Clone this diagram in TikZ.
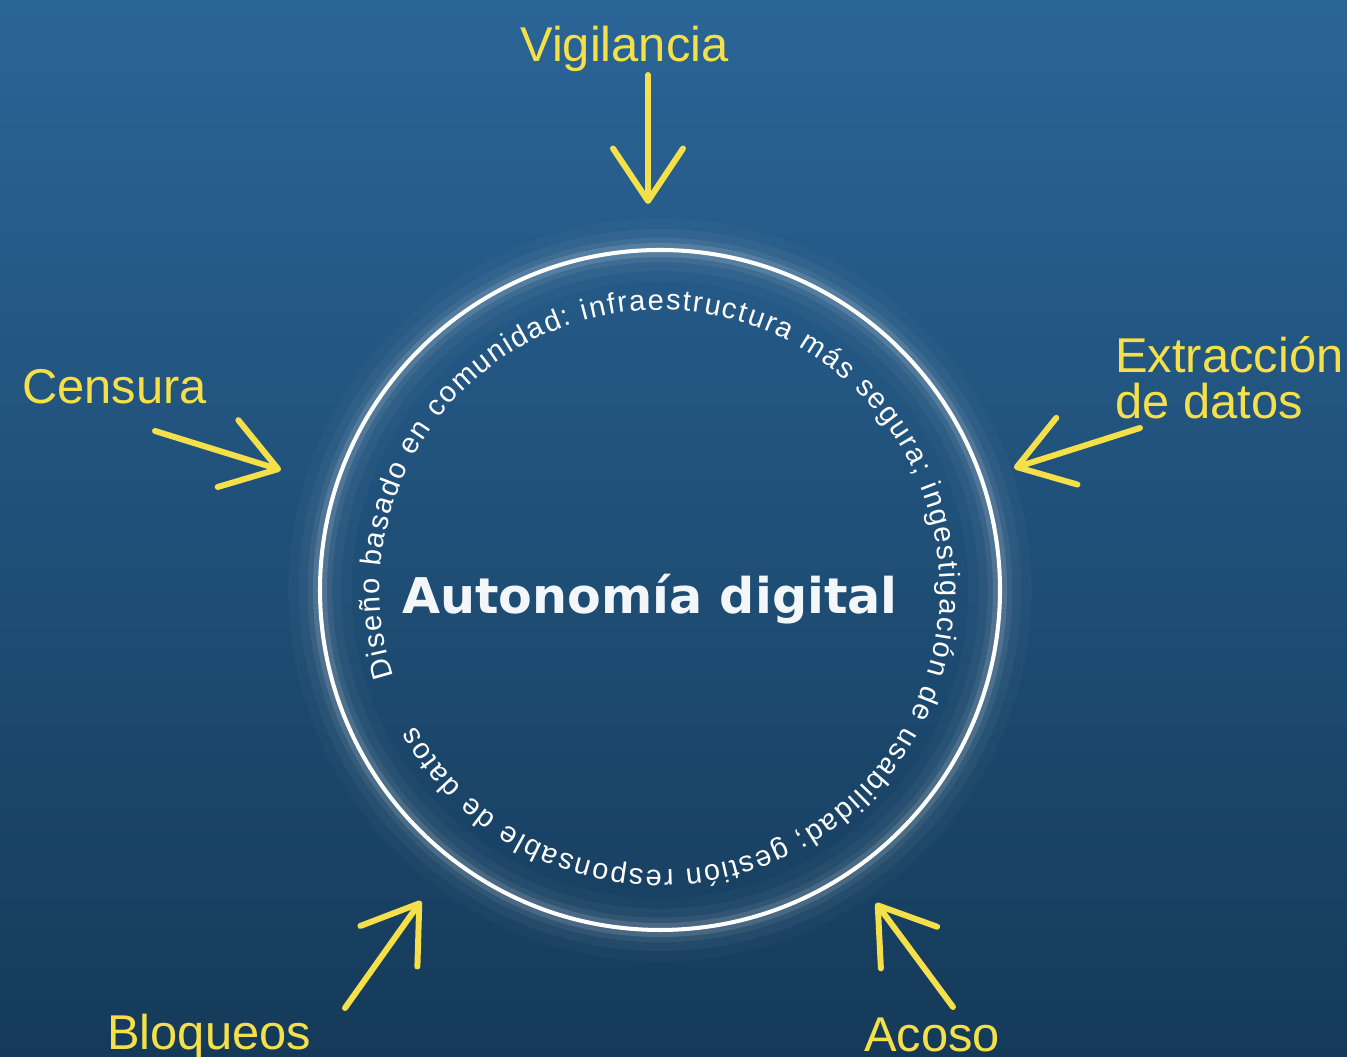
\documentclass[tikz,border=0pt]{standalone}
\usepackage{fontspec}
\setmainfont{Liberation Sans}
\newfontfamily\titulofont{DejaVu Sans}
\newfontfamily\circfont{Liberation Sans}
\usetikzlibrary{arrows.meta,decorations.text}
\definecolor{amarillo}{HTML}{F5E04A}
\definecolor{azularriba}{HTML}{2A6597}
\definecolor{azulabajo}{HTML}{153A59}

\begin{document}
\begin{tikzpicture}[x=0.02cm, y=0.02cm,
    etiqueta/.style={text=amarillo, inner sep=0pt, font=\fontsize{27.8}{26.6}\selectfont},
    flecha/.style={draw=amarillo, line width=3.4pt, line cap=round,
      -{Straight Barb[length=1.05cm, width=1.4cm, round]}}]
    % 背景
    \shade[top color=azularriba, bottom color=azulabajo] (0,0) rectangle (1347,1057);
    \useasboundingbox (0,0) rectangle (1347,1057);

    % 円と光
    \coordinate (ctr) at (660,467);
    \foreach \w/\o in {36/0.025, 24/0.04, 14/0.06, 8/0.12}
      \draw[white, opacity=\o, line width=\w pt] (ctr) circle (340);
    \draw[white, line width=2.3pt] (ctr) circle (340);

    % 中央の文字
    \node[font=\titulofont\bfseries\fontsize{28}{30}\selectfont, text=white!95!azularriba, anchor=base] (titulo) at (650,443) {Autonomía digital};

    % 円周の文字
    \path[decorate, decoration={text along path, text color=white, text align={fit to path},
      text={|\circfont\fontsize{16.5}{18}\selectfont|Diseño basado en comunidad: infraestructura más segura; ingestigación de usabilidad; gestión responsable de datos}}]
      (ctr) ++(198:280) arc[start angle=198, end angle=-151, radius=280];

    % ラベル
    \node[etiqueta, anchor=base west] (vig) at (520,995) {Vigilancia};
    \node[etiqueta, anchor=base west] (cen) at (22,653) {Censura};
    \node[etiqueta, anchor=base west, align=left] (ext) at (1115,638) {Extracción\\de datos};
    \node[etiqueta, anchor=base west] (blo) at (107,7) {Bloqueos};
    \node[etiqueta, anchor=base west] (aco) at (864,5) {Acoso};

    % 矢印の端
    \coordinate (vig-a) at (648,982);
    \coordinate (vig-b) at (648,853);
    \coordinate (cen-a) at (155,626);
    \coordinate (cen-b) at (281,587);
    \coordinate (ext-a) at (1140,629);
    \coordinate (ext-b) at (1014,589);
    \coordinate (blo-a) at (345,49);
    \coordinate (blo-b) at (421,156);
    \coordinate (aco-a) at (953,50);
    \coordinate (aco-b) at (876,154);

    % 矢印
    \draw[flecha] (vig-a) -- (vig-b);
    \draw[flecha] (cen-a) -- (cen-b);
    \draw[flecha] (ext-a) -- (ext-b);
    \draw[flecha] (blo-a) -- (blo-b);
    \draw[flecha] (aco-a) -- (aco-b);
  \end{tikzpicture}
\end{document}
